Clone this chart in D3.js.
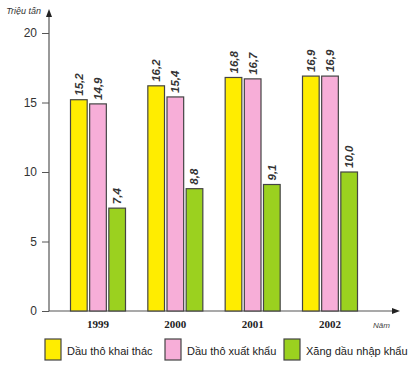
<!DOCTYPE html>
<html>
<head>
<meta charset="utf-8">
<script src="https://cdn.jsdelivr.net/npm/d3@7"></script>
<style>
  body { margin: 0; background: #fff; }
</style>
</head>
<body>
<div id="chart"></div>
<script>
// data
let years = ['1999', '2000', '2001', '2002']
let series = ['Dầu thô khai thác', 'Dầu thô xuất khẩu', 'Xăng dầu nhập khẩu']
let khaiThac = [15.2, 16.2, 16.8, 16.9]
let xuatKhau = [14.9, 15.4, 16.7, 16.9]
let nhapKhau = [7.4, 8.8, 9.1, 10.0]
let yTicks = [0, 5, 10, 15, 20]
let colors = ['#ffed00', '#f7aed8', '#9bd11f']

let values = [khaiThac, xuatKhau, nhapKhau]

let width = 415
let height = 370

let svg = d3
  .select('#chart')
  .append('svg')
  .attr('width', width)
  .attr('height', height)
  .style('font-family', 'Liberation Sans, Arial, sans-serif')

let yScale = d3.scaleLinear().domain([0, 20]).range([311, 33])
let xScale = d3.scalePoint().domain(years).range([98, 330])
let innerScale = d3
  .scaleBand()
  .domain(series)
  .range([-27.5, 27.5])
  .paddingInner(0.13)

let colorScale = d3.scaleOrdinal().domain(series).range(colors)

let axisX = 49

// y axis
let yAxis = d3
  .axisLeft(yScale)
  .tickValues(yTicks)
  .tickSize(7)
  .tickPadding(5)
  .tickFormat(d3.format('d'))

let yG = svg
  .append('g')
  .attr('transform', `translate(${axisX},0)`)
  .call(yAxis)
yG.select('.domain').remove()
yG.selectAll('line').attr('stroke', '#555')
yG.selectAll('text')
  .attr('font-size', 12)
  .attr('fill', '#333')
  .style('font-family', 'Liberation Sans, Arial, sans-serif')

svg
  .append('line')
  .attr('x1', axisX)
  .attr('x2', axisX)
  .attr('y1', yScale(0))
  .attr('y2', 14)
  .attr('stroke', '#555')
  .attr('stroke-width', 1.2)

svg
  .append('path')
  .attr('d', `M${axisX - 3},${17} L${axisX},${9} L${axisX + 3},${17} Z`)
  .attr('fill', '#222')

svg
  .append('text')
  .text('Triệu tấn')
  .attr('x', 41)
  .attr('y', 14)
  .attr('text-anchor', 'end')
  .attr('font-size', 9)
  .attr('font-style', 'italic')
  .attr('fill', '#333')

// x axis
svg
  .append('line')
  .attr('x1', axisX)
  .attr('x2', 394)
  .attr('y1', yScale(0))
  .attr('y2', yScale(0))
  .attr('stroke', '#555')
  .attr('stroke-width', 1.2)

svg
  .append('path')
  .attr('d', `M${392},${yScale(0) - 3} L${400},${yScale(0)} L${392},${yScale(0) + 3} Z`)
  .attr('fill', '#222')

svg
  .append('text')
  .text('Năm')
  .attr('x', 373)
  .attr('y', 328)
  .attr('font-size', 8)
  .attr('font-style', 'italic')
  .attr('fill', '#444')

svg
  .selectAll('.year')
  .data(years)
  .enter()
  .append('text')
  .attr('class', 'year')
  .text(d => d)
  .attr('x', d => xScale(d))
  .attr('y', 328)
  .attr('text-anchor', 'middle')
  .attr('font-size', 11)
  .attr('font-weight', 'bold')
  .attr('fill', '#222')
  .style('font-family', 'Liberation Serif, Times New Roman, serif')

// bars
let groups = svg
  .selectAll('.group')
  .data(years)
  .enter()
  .append('g')
  .attr('class', 'group')
  .attr('transform', d => `translate(${xScale(d)},0)`)
  .each(function(year, i) {
    let g = d3.select(this)
    let rows = series.map((s, j) => ({ s: s, v: values[j][i] }))

    g.selectAll('rect')
      .data(rows)
      .enter()
      .append('rect')
      .attr('x', d => innerScale(d.s))
      .attr('width', innerScale.bandwidth())
      .attr('y', d => yScale(d.v))
      .attr('height', d => yScale(0) - yScale(d.v))
      .attr('fill', d => colorScale(d.s))
      .attr('stroke', '#444')
      .attr('stroke-width', 1.2)

    g.selectAll('.val')
      .data(rows)
      .enter()
      .append('text')
      .attr('class', 'val')
      .text(d => d3.format('.1f')(d.v).replace('.', ','))
      .attr('transform', d => {
        let cx = innerScale(d.s) + innerScale.bandwidth() / 2 + 4
        return `translate(${cx},${yScale(d.v) - 4}) rotate(-90)`
      })
      .attr('font-size', 11.5)
      .attr('font-style', 'italic')
      .attr('font-weight', 'bold')
      .attr('fill', '#333')
  })

// legend
let legendX = [45, 165, 284]
let legend = svg
  .selectAll('.legend')
  .data(series)
  .enter()
  .append('g')
  .attr('class', 'legend')
  .attr('transform', (d, i) => `translate(${legendX[i]},339)`)

legend
  .append('rect')
  .attr('width', 16)
  .attr('height', 21)
  .attr('fill', d => colorScale(d))
  .attr('stroke', '#444')
  .attr('stroke-width', 1.2)

legend
  .append('text')
  .text(d => d)
  .attr('x', 22)
  .attr('y', 16)
  .attr('font-size', 11)
  .attr('fill', '#222')
</script>
</body>
</html>
